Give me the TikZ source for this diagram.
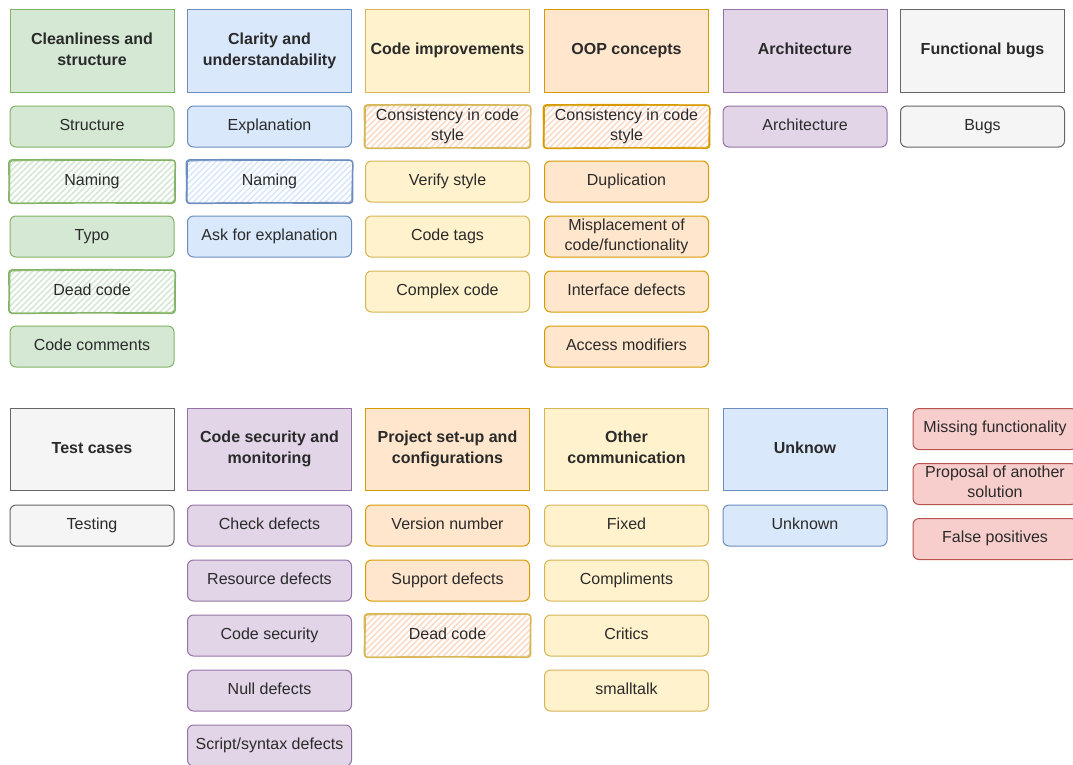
\documentclass[tikz,border=0pt]{standalone}
\usepackage{fontspec}
\setmainfont{Liberation Sans}
\usetikzlibrary{backgrounds}
\definecolor{gfill}{HTML}{D5E8D4}\definecolor{gdraw}{HTML}{82B366}
\definecolor{bfill}{HTML}{DAE8FC}\definecolor{bdraw}{HTML}{6C8EBF}
\definecolor{yfill}{HTML}{FFF2CC}\definecolor{ydraw}{HTML}{D6B656}
\definecolor{ofill}{HTML}{FFE6CC}\definecolor{odraw}{HTML}{D79B00}
\definecolor{pfill}{HTML}{E1D5E7}\definecolor{pdraw}{HTML}{9673A6}
\definecolor{kfill}{HTML}{F5F5F5}\definecolor{kdraw}{HTML}{666666}
\definecolor{rfill}{HTML}{F8CECC}\definecolor{rdraw}{HTML}{B85450}
\definecolor{txt}{HTML}{2A2A2A}
\definecolor{ohatch}{HTML}{FCDCC8}
\newcommand\mystrut{\rule[-3pt]{0pt}{11pt}}
\tikzset{
  box/.style={draw, line width=0.75pt, minimum width=123pt, minimum height=30.75pt,
    align=center, inner sep=1pt, font=\fontsize{12}{15}\selectfont, text=txt,
    execute at begin node=\mystrut, execute at end node=\mystrut},
  hdr/.style={box, minimum height=62pt, font=\bfseries\fontsize{12}{15.5}\selectfont},
  child/.style={box, rounded corners=4.5pt},
  cg/.style={fill=gfill, draw=gdraw},
  cb/.style={fill=bfill, draw=bdraw},
  cy/.style={fill=yfill, draw=ydraw},
  co/.style={fill=ofill, draw=odraw},
  cp/.style={fill=pfill, draw=pdraw},
  ck/.style={fill=kfill, draw=kdraw},
  cr/.style={fill=rfill, draw=rdraw},
  hatchline/.style={line width=1.3pt},
  sketchy/.style={line width=1.1pt, rounded corners=2.5pt, line join=round}
}
% name, x, y, hatch colour, border colour, text
\newcommand\hatchbox[6]{%
  \node[child, draw=none] (#1) at (#2,#3) {#6};
  \begin{scope}[on background layer]
    \fill[white, rounded corners=4.5pt] (#1.north west) rectangle (#1.south east);
    \begin{scope}
      \clip[rounded corners=4.5pt] (#1.north west) rectangle (#1.south east);
      \foreach \k in {-36,-31.5,...,126}
        \draw[#4, hatchline] ([xshift=\k pt]#1.south west) -- ++(40pt,40pt);
    \end{scope}
  \end{scope}
  \draw[#5, sketchy]
    ([shift={(-0.6pt,0.5pt)}]#1.north west)
    -- ([shift={(0pt,0.7pt)}]#1.north)
    -- ([shift={(0.7pt,0.2pt)}]#1.north east)
    -- ([shift={(0.4pt,0pt)}]#1.east)
    -- ([shift={(0.6pt,-0.6pt)}]#1.south east)
    -- ([shift={(0pt,-0.3pt)}]#1.south)
    -- ([shift={(-0.5pt,-0.7pt)}]#1.south west)
    -- ([shift={(-0.3pt,0pt)}]#1.west)
    -- cycle;
  \draw[#5, line width=0.6pt, rounded corners=2pt]
    ([shift={(0.3pt,-0.3pt)}]#1.north west)
    -- ([shift={(0.5pt,0.4pt)}]#1.north east)
    -- ([shift={(-0.3pt,0.2pt)}]#1.south east)
    -- ([shift={(0.2pt,-0.4pt)}]#1.south west)
    -- cycle;
}
\begin{document}
\begin{tikzpicture}[x=0.75pt,y=-0.75pt]
\useasboundingbox (0,0) rectangle (1073,764);
\clip (0,0) rectangle (1073,764);
% ---------- top row ----------
% column 1
\node[hdr,cg] (h1) at (92,51) {Cleanliness and\\structure};
\node[child,cg] (c1a) at (92,126.5) {Structure};
\hatchbox{c1b}{92}{181.5}{gfill}{gdraw}{Naming}
\node[child,cg] (c1c) at (92,236.5) {Typo};
\hatchbox{c1d}{92}{291.5}{gfill}{gdraw}{Dead code}
\node[child,cg] (c1e) at (92,346.5) {Code comments};
% column 2
\node[hdr,cb] (h2) at (269.5,51) {Clarity and\\understandability};
\node[child,cb] (c2a) at (269.5,126.5) {Explanation};
\hatchbox{c2b}{269.5}{181.5}{bfill}{bdraw}{Naming}
\node[child,cb] (c2c) at (269.5,236.5) {Ask for explanation};
% column 3
\node[hdr,cy] (h3) at (447.5,51) {Code improvements};
\hatchbox{c3a}{447.5}{126.5}{ohatch}{ydraw}{Consistency in code\\style}
\node[child,cy] (c3b) at (447.5,181.5) {Verify style};
\node[child,cy] (c3c) at (447.5,236.5) {Code tags};
\node[child,cy] (c3d) at (447.5,291.5) {Complex code};
% column 4
\node[hdr,co] (h4) at (626.5,51) {OOP concepts};
\hatchbox{c4a}{626.5}{126.5}{ohatch}{odraw}{Consistency in code\\style}
\node[child,co] (c4b) at (626.5,181.5) {Duplication};
\node[child,co] (c4c) at (626.5,236.5) {Misplacement of\\code/functionality};
\node[child,co] (c4d) at (626.5,291.5) {Interface defects};
\node[child,co] (c4e) at (626.5,346.5) {Access modifiers};
% column 5
\node[hdr,cp] (h5) at (805,51) {Architecture};
\node[child,cp] (c5a) at (805,126.5) {Architecture};
% column 6
\node[hdr,ck] (h6) at (982.5,51) {Functional bugs};
\node[child,ck] (c6a) at (982.5,126.5) {Bugs};
% ---------- bottom row ----------
\node[hdr,ck] (h7) at (92,449.5) {Test cases};
\node[child,ck] (c7a) at (92,525.5) {Testing};
\node[hdr,cp] (h8) at (269.5,449.5) {Code security and\\monitoring};
\node[child,cp] (c8a) at (269.5,525.5) {Check defects};
\node[child,cp] (c8b) at (269.5,580.5) {Resource defects};
\node[child,cp] (c8c) at (269.5,635.5) {Code security};
\node[child,cp] (c8d) at (269.5,690.5) {Null defects};
\node[child,cp] (c8e) at (269.5,745.5) {Script/syntax defects};
\node[hdr,co] (h9) at (447.5,449.5) {Project set-up and\\configurations};
\node[child,co] (c9a) at (447.5,525.5) {Version number};
\node[child,co] (c9b) at (447.5,580.5) {Support defects};
\hatchbox{c9c}{447.5}{635.5}{ohatch}{ydraw}{Dead code}
\node[hdr,cy] (h10) at (626.5,449.5) {Other\\communication};
\node[child,cy] (c10a) at (626.5,525.5) {Fixed};
\node[child,cy] (c10b) at (626.5,580.5) {Compliments};
\node[child,cy] (c10c) at (626.5,635.5) {Critics};
\node[child,cy] (c10d) at (626.5,690.5) {smalltalk};
\node[hdr,cb] (h11) at (805,449.5) {Unknow};
\node[child,cb] (c11a) at (805,525.5) {Unknown};
% red column
\node[child,cr] (r1) at (995,429) {Missing functionality};
\node[child,cr] (r2) at (995,484) {Proposal of another\\solution};
\node[child,cr] (r3) at (995,539) {False positives};
\end{tikzpicture}
\end{document}
